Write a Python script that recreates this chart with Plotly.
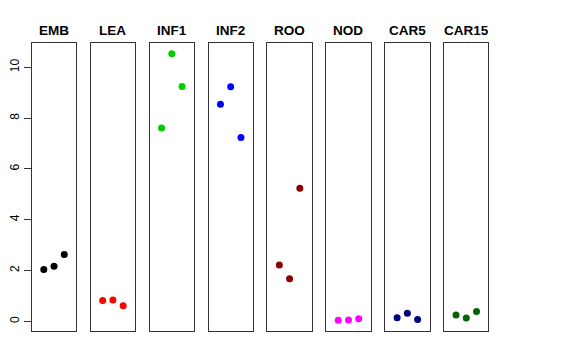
import plotly.graph_objects as go

categories = ["EMB", "LEA", "INF1", "INF2", "ROO", "NOD", "CAR5", "CAR15"]
colors = ["#000000", "#FF0000", "#00CD00", "#0000FF", "#8B0000", "#FF00FF", "#000080", "#006400"]
rep_x = [1, 2, 3]
values = {
    "EMB": [2.04, 2.17, 2.63],
    "LEA": [0.82, 0.84, 0.61],
    "INF1": [7.61, 10.54, 9.25],
    "INF2": [8.55, 9.24, 7.24],
    "ROO": [2.22, 1.68, 5.24],
    "NOD": [0.04, 0.05, 0.10],
    "CAR5": [0.14, 0.32, 0.07],
    "CAR15": [0.25, 0.13, 0.39],
}
y_ticks = [0, 2, 4, 6, 8, 10]

W, H = 576, 360
OFF = 8  # page body margin offset
left0, pw, step = 29 - OFF, 44.5, 59.2
top, bottom = 43 - OFF, 331 - OFF

all_vals = [v for k in categories for v in values[k]]
ymin, ymax = min(all_vals), max(all_vals)
pad = (ymax - ymin) * 0.04
yr = [ymin - pad, ymax + pad]

fig = go.Figure()
layout = dict(
    width=W, height=H, margin=dict(l=0, r=0, t=0, b=0),
    plot_bgcolor="white", paper_bgcolor="white", showlegend=False,
    font=dict(family="Liberation Sans, Arial, sans-serif", size=12, color="black"),
)
annotations = []
for i, (cat, col) in enumerate(zip(categories, colors)):
    n = "" if i == 0 else str(i + 1)
    x0 = left0 + i * step
    x1 = x0 + pw
    fig.add_trace(go.Scatter(
        x=rep_x, y=values[cat], mode="markers",
        marker=dict(color=col, size=7, line=dict(width=0)),
        xaxis="x" + n, yaxis="y" + n, hoverinfo="y",
    ))
    layout["xaxis" + n] = dict(
        domain=[x0 / W, x1 / W], range=[-0.16, 4.16], anchor="y" + n,
        showline=True, mirror=True, linecolor="#333333", linewidth=1,
        showgrid=False, zeroline=False, showticklabels=False, ticks="",
    )
    ydict = dict(
        domain=[(H - bottom) / H, (H - top) / H], range=yr, anchor="x" + n,
        showline=True, mirror=True, linecolor="#333333", linewidth=1,
        showgrid=False, zeroline=False,
    )
    if i == 0:
        ydict.update(tickvals=y_ticks, ticktext=[str(t) for t in y_ticks],
                     ticks="outside", ticklen=7, tickcolor="#333333",
                     tickangle=-90, tickfont=dict(size=12, color="black"))
    else:
        ydict.update(showticklabels=False, ticks="")
    layout["yaxis" + n] = ydict
    annotations.append(dict(
        x=(x0 + x1) / 2 / W, y=(H - (30 - OFF)) / H, xref="paper", yref="paper",
        text="<b>" + cat + "</b>", showarrow=False, xanchor="center", yanchor="middle",
        font=dict(size=13.5, color="black"),
    ))
layout["annotations"] = annotations
fig.update_layout(**layout)
fig.write_html("out.html")
